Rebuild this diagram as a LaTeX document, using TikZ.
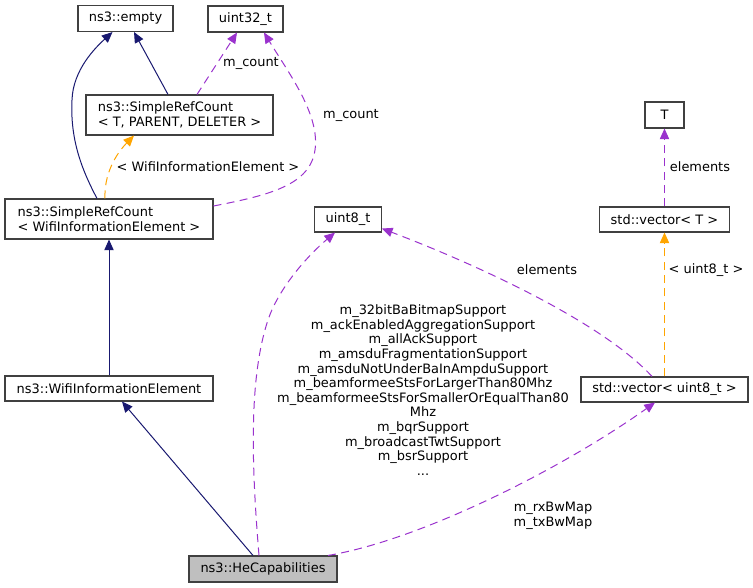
\documentclass[tikz,border=0pt]{standalone}
\usepackage{fontspec}
\setmainfont{DejaVu Sans}
\usetikzlibrary{arrows.meta,calc}
\definecolor{navy}{HTML}{191970}
\definecolor{purp}{HTML}{9A32CD}
\definecolor{orng}{HTML}{FFA500}
\definecolor{boxline}{HTML}{404040}
\begin{document}
\begin{tikzpicture}[x=0.75pt,y=-0.75pt,
  every node/.style={font=\fontsize{9.7}{10.95}\selectfont},
  cls/.style={draw=boxline,line width=0.8pt,fill=white,inner sep=0pt,align=left},
  lbl/.style={inner sep=0pt,align=center},
  tip/.style={-{Triangle[length=8pt,width=7pt]}},
  inh/.style={tip,draw=navy,line width=0.75pt},
  use/.style={tip,draw=purp,line width=0.75pt,dash pattern=on 6pt off 4pt},
  tpl/.style={tip,draw=orng,line width=0.75pt,dash pattern=on 6pt off 4pt}]
\useasboundingbox (0,0) rectangle (753,588);
% nodes
\node[cls,minimum width=71.25pt,minimum height=19.5pt] (empty) at (125.5,18.5) {ns3::empty};
\node[cls,minimum width=56.25pt,minimum height=19.5pt] (u32) at (245.5,19) {uint32\_t};
\node[cls,minimum width=140.25pt,minimum height=30pt] (srcT) at (179.5,115) {ns3::SimpleRefCount\\< T, PARENT, DELETER >};
\node[cls,minimum width=156pt,minimum height=30pt] (srcW) at (109,219) {ns3::SimpleRefCount\\< WifiInformationElement >};
\node[cls,minimum width=50pt,minimum height=18.75pt] (u8) at (348,219.5) {uint8\_t};
\node[cls,minimum width=29.25pt,minimum height=19.5pt] (T) at (664.5,115) {T};
\node[cls,minimum width=97.5pt,minimum height=18.75pt] (vecT) at (664.5,219.5) {std::vector< T >};
\node[cls,minimum width=125.25pt,minimum height=18.75pt] (vecU) at (664.5,389.5) {std::vector< uint8\_t >};
\node[cls,minimum width=156pt,minimum height=18.75pt] (wie) at (109,388.5) {ns3::WifiInformationElement};
\node[cls,fill={rgb,255:red,191;green,191;blue,191},minimum width=111pt,minimum height=19.5pt] (he) at (263,569) {ns3::HeCapabilities};
% labels
\node[lbl] (l1) at (251,63) {m\_count};
\node[lbl] (l2) at (351,115) {m\_count};
\node[lbl] (l3) at (208,167) {< WifiInformationElement >};
\node[lbl] (l4) at (423,390) {m\_32bitBaBitmapSupport\\m\_ackEnabledAggregationSupport\\m\_allAckSupport\\m\_amsduFragmentationSupport\\m\_amsduNotUnderBaInAmpduSupport\\m\_beamformeeStsForLargerThan80Mhz\\m\_beamformeeStsForSmallerOrEqualThan80\\Mhz\\m\_bqrSupport\\m\_broadcastTwtSupport\\m\_bsrSupport\\...};
\node[lbl] (l5) at (553,516) {m\_rxBwMap\\m\_txBwMap};
\node[lbl] (l6) at (547,270) {elements};
\node[lbl] (l7) at (700,167) {elements};
\node[lbl] (l8) at (706,270) {< uint8\_t >};
% edges
\draw[inh] ($(srcW.north)+(-12,0)$) .. controls (82,170) and (70,140) .. (72,100) .. controls (73,70) and (95,48) .. ($(empty.south)+(-13,0)$);
\draw[inh] ($(srcT.north)+(-11.5,0)$) -- ($(empty.south)+(8.5,0)$);
\draw[use] ($(srcT.north)+(17.5,0)$) -- ($(u32.south)+(-8.5,0)$);
\draw[use] ($(srcW.east)+(0,-13)$) .. controls (270,195) and (310,185) .. (315,150) .. controls (320,115) and (290,75) .. ($(u32.south)+(18.5,0)$);
\draw[tpl] ($(srcW.north)+(-4,0)$) .. controls (104,175) and (115,155) .. ($(srcT.south)+(-45.5,0)$);
\draw[inh] (wie.north) -- (srcW.south);
\draw[inh] ($(he.north)+(-10,0)$) -- ($(wie.south)+(13,0)$);
\draw[use] ($(he.north)+(-4,0)$) .. controls (252,470) and (248,380) .. (268,320) .. controls (278,290) and (305,258) .. ($(u8.south)+(-13,0)$);
\draw[use] ($(he.north)+(65,0)$) .. controls (420,540) and (560,470) .. ($(vecU.south)+(-9.5,0)$);
\draw[use] ($(vecU.north)+(-12.5,0)$) .. controls (600,320) and (470,262) .. ($(u8.south east)+(0,-4)$);
\draw[tpl] (vecU.north) -- (vecT.south);
\draw[use] (vecT.north) -- (T.south);
\end{tikzpicture}
\end{document}
